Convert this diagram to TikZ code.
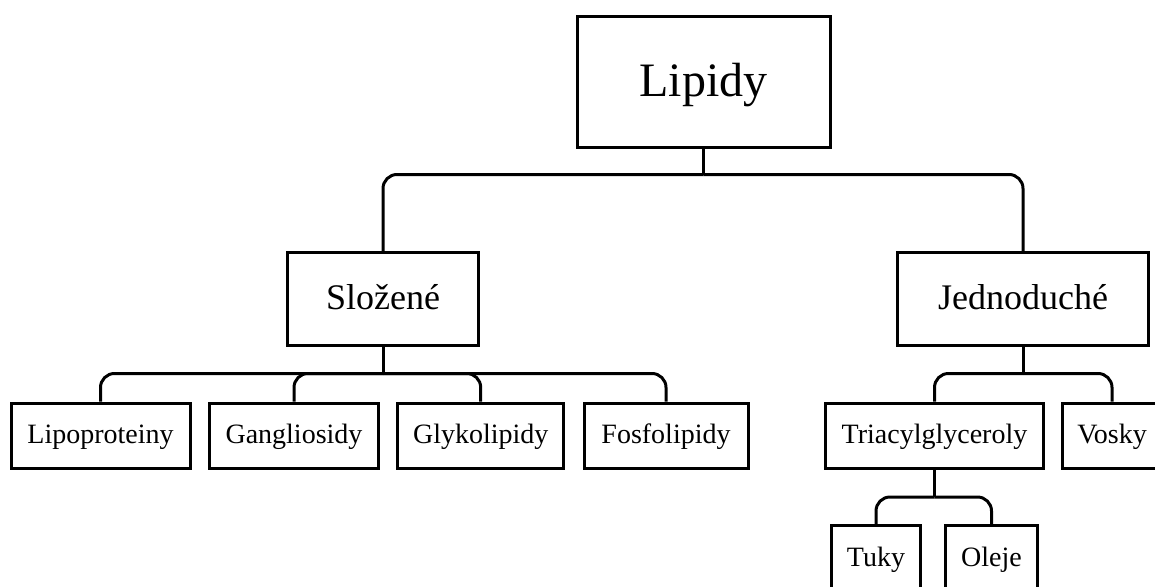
\documentclass[tikz,border=0pt]{standalone}
\usepackage{fontspec}
\setmainfont{Liberation Serif}

\tikzset{
	box/.style={draw,line width=3pt,rectangle,inner sep=0pt,anchor=center},
	bigbox/.style={box,font=\fontsize{48}{56}\selectfont,text height=33.6pt,text depth=4.8pt},
	midbox/.style={box,minimum height=93,font=\fontsize{36}{42}\selectfont,text height=25.2pt,text depth=3.6pt},
	smallbox/.style={box,minimum height=65,font=\fontsize{28}{34}\selectfont,text height=19.6pt,text depth=2.8pt},
	link/.style={line width=3pt,rounded corners=14pt},
}

\begin{document}
\begin{tikzpicture}[x=1pt,y=-1pt]
	\useasboundingbox (0,0) rectangle (1155,586);
	\clip (0,0) rectangle (1155,586);
	\node[bigbox,minimum width=253,minimum height=131] (lipidy) at (703.5,82) {Lipidy};
	\node[midbox,minimum width=191] (slozene) at (383,299) {Složené};
	\node[midbox,minimum width=251] (jednoduche) at (1023,299) {Jednoduché};
	\foreach \n/\x/\w/\t in {
			lipo/100.5/179/Lipoproteiny,
			gang/294/169/Gangliosidy,
			glyk/480.7/166/Glykolipidy,
			fosf/666/164/Fosfolipidy,
			tria/934.5/218/Triacylglyceroly,
			vosk/1112/100/Vosky
			} {
		\node[smallbox,minimum width=\w] (\n) at (\x,435.5) {\t};
	};
	\node[smallbox,minimum width=89] (tuky) at (876,558) {Tuky};
	\node[smallbox,minimum width=92] (oleje) at (991.5,558) {Oleje};

	\draw[link] (lipidy.south) -- (lipidy.south |- 0,174.5) coordinate (b1);
	\foreach \c in {slozene,jednoduche} {
		\draw[link] (b1) -| (\c.north);
	};
	\draw[link] (slozene.south) -- (slozene.south |- 0,373.5) coordinate (b2);
	\foreach \c in {lipo,gang,glyk,fosf} {
		\draw[link] (b2) -| (\c.north);
	};
	\draw[link] (jednoduche.south) -- (jednoduche.south |- 0,373.5) coordinate (b3);
	\foreach \c in {tria,vosk} {
		\draw[link] (b3) -| (\c.north);
	};
	\draw[link] (tria.south) -- (tria.south |- 0,497) coordinate (b4);
	\foreach \c in {tuky,oleje} {
		\draw[link] (b4) -| (\c.north);
	};
\end{tikzpicture}
\end{document}
